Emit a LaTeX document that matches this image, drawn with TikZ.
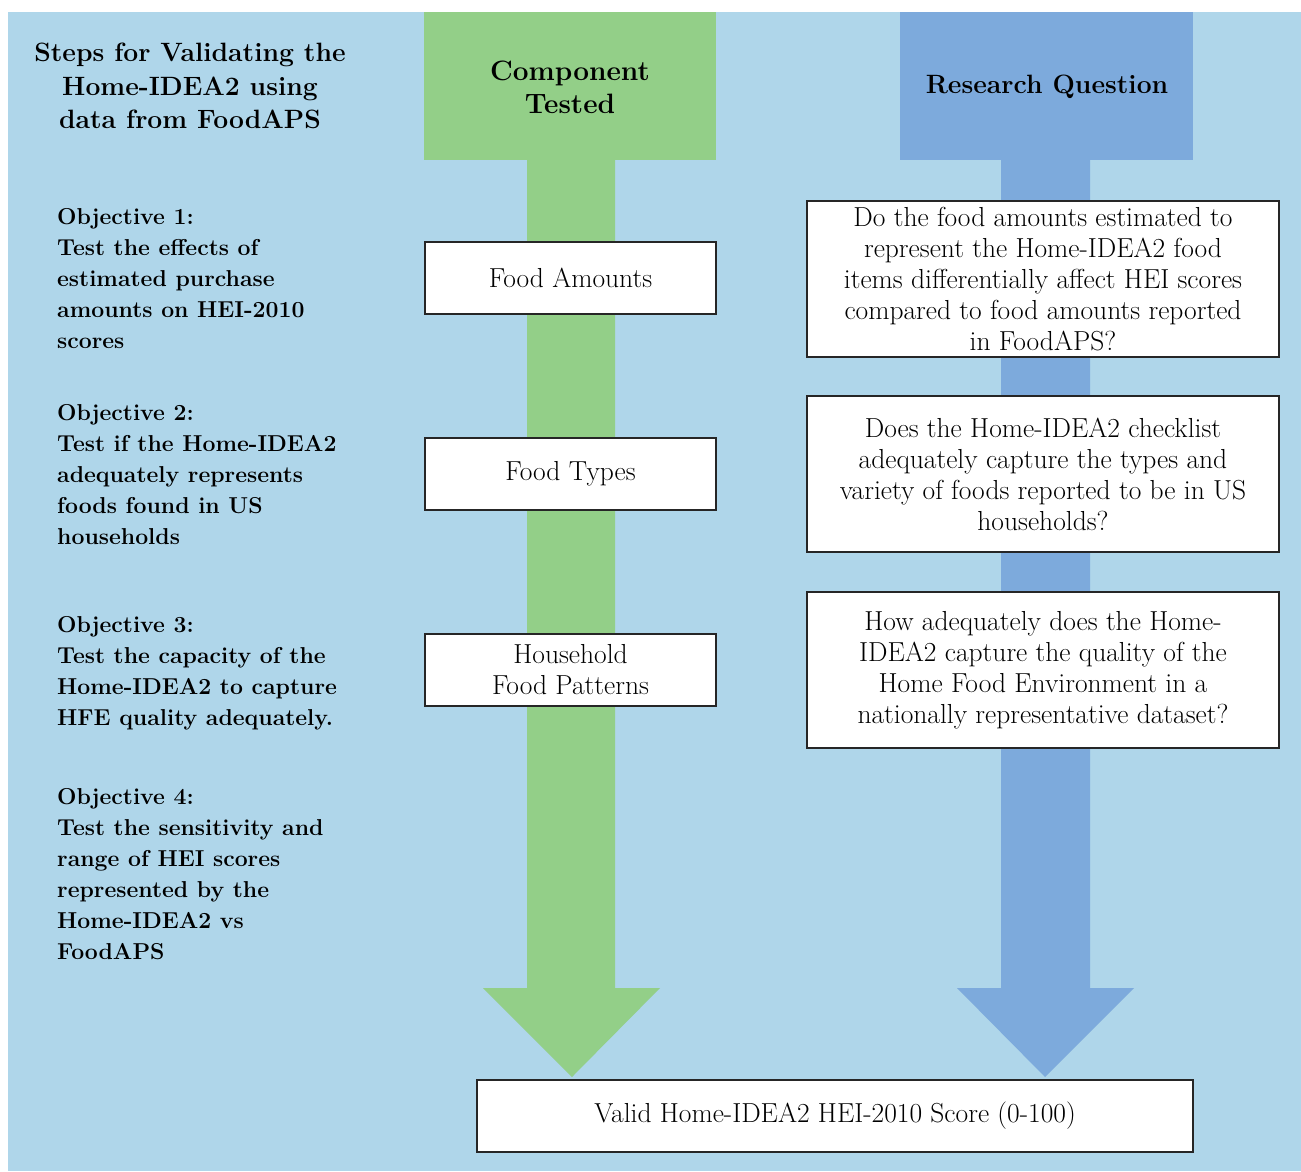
\documentclass[tikz,border=0pt]{standalone}
\usepackage{tikz}
\usetikzlibrary{positioning}
\definecolor{bgblue}{HTML}{AFD6EA}
\definecolor{colgreen}{HTML}{93CF88}
\definecolor{colblue}{HTML}{7DAADC}
\begin{document}
\begin{tikzpicture}[x=1pt,y=-1pt,
box/.style={draw=black!85,fill=white,line width=1.2pt,align=center,inner sep=0pt,font=\fontsize{27.5}{31}\selectfont},
obj/.style={anchor=north west,align=left,inner sep=0pt,font=\fontsize{23}{31}\selectfont\bfseries},
head/.style={align=center,inner sep=0pt,font=\fontsize{26.5}{33.5}\selectfont\bfseries}]
\useasboundingbox (0,0) rectangle (1301,1171);
\fill[bgblue] (8,12) rectangle (1301,1171);
% columns with big arrows
\fill[colgreen] (424,12) rectangle (716,160);
\fill[colgreen] (527,160) -- (615,160) -- (615,988) -- (660,988) -- (572,1077) -- (483,988) -- (527,988) -- cycle;
\fill[colblue] (900,12) rectangle (1193,160);
\fill[colblue] (1001,160) -- (1090,160) -- (1090,988) -- (1134,988) -- (1045,1077) -- (957,988) -- (1001,988) -- cycle;
% headings
\node[head] (h) at (190,86) {Steps for Validating the\\Home-IDEA2 using\\data from FoodAPS};
\node[head,font=\fontsize{28}{33}\selectfont\bfseries] (ct) at (570,87) {Component\\Tested};
\node[head] (rq) at (1047,87) {Research Question};
% objectives
\node[obj] (o1) at (57,208) {Objective 1:\\Test the effects of\\estimated purchase\\amounts on HEI-2010\\scores};
\node[obj] (o2) at (57,404) {Objective 2:\\Test if the Home-IDEA2\\adequately represents\\foods found in US\\households};
\node[obj] (o3) at (57,616) {Objective 3:\\Test the capacity of the\\Home-IDEA2 to capture\\HFE quality adequately.};
\node[obj] (o4) at (57,788) {Objective 4:\\Test the sensitivity and\\range of HEI scores\\represented by the\\Home-IDEA2 vs\\FoodAPS};
% components
\node[box,minimum width=291,minimum height=72] (fa) at (570.5,278) {Food Amounts};
\node[box,minimum width=291,minimum height=72] (ft) at (570.5,474) {Food Types};
\node[box,minimum width=291,minimum height=72] (hp) at (570.5,670) {Household\\Food Patterns};
% research questions
\node[box,minimum width=472,minimum height=156] (q1) at (1043,279) {Do the food amounts estimated to\\represent the Home-IDEA2 food\\items differentially affect HEI scores\\compared to food amounts reported\\in FoodAPS?};
\node[box,minimum width=472,minimum height=156] (q2) at (1043,474) {Does the Home-IDEA2 checklist\\adequately capture the types and\\variety of foods reported to be in US\\households?};
\node[box,minimum width=472,minimum height=156] (q3) at (1043,670) {How adequately does the Home-\\IDEA2 capture the quality of the\\Home Food Environment in a\\nationally representative dataset?};
% result
\node[box,minimum width=716,minimum height=72] (res) at (835,1116) {Valid Home-IDEA2 HEI-2010 Score (0-100)};
\end{tikzpicture}
\end{document}
